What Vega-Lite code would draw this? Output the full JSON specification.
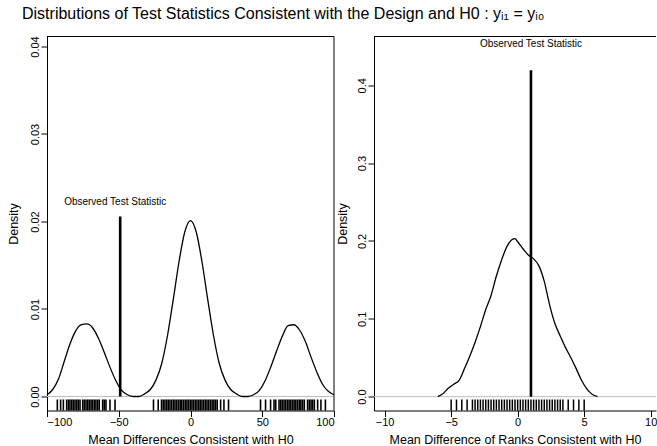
{
  "$schema": "https://vega.github.io/schema/vega-lite/v6.json",
  "autosize": {"type": "pad"},
  "padding": {"left": 7, "top": 5.5, "right": 0, "bottom": 0},
  "title": {
    "text": "Distributions of Test Statistics Consistent with the Design and H0 : yᵢ₁ = yᵢ₀",
    "anchor": "start",
    "frame": "group",
    "dx": -25,
    "offset": 0.5,
    "baseline": "alphabetic",
    "font": "Liberation Sans",
    "fontSize": 16,
    "fontWeight": "normal",
    "color": "black"
  },
  "datasets": {
    "leftDens": [
      {"x": -100, "d": 0.0002}, {"x": -96, "d": 0.0008}, {"x": -92, "d": 0.0020}, {"x": -88, "d": 0.0040},
      {"x": -84, "d": 0.0060}, {"x": -80, "d": 0.0075}, {"x": -76, "d": 0.0082}, {"x": -72, "d": 0.0083},
      {"x": -68, "d": 0.0078}, {"x": -64, "d": 0.0066}, {"x": -60, "d": 0.0050}, {"x": -56, "d": 0.0033},
      {"x": -52, "d": 0.0018}, {"x": -48, "d": 0.0007}, {"x": -44, "d": 0.0002}, {"x": -40, "d": 0.0000},
      {"x": -36, "d": 0.0000}, {"x": -32, "d": 0.0003}, {"x": -28, "d": 0.0008}, {"x": -24, "d": 0.0019},
      {"x": -20, "d": 0.0038}, {"x": -16, "d": 0.0070}, {"x": -12, "d": 0.0111}, {"x": -8, "d": 0.0154},
      {"x": -4, "d": 0.0188}, {"x": 0, "d": 0.0201}, {"x": 4, "d": 0.0188}, {"x": 8, "d": 0.0154},
      {"x": 12, "d": 0.0111}, {"x": 16, "d": 0.0070}, {"x": 20, "d": 0.0038}, {"x": 24, "d": 0.0019},
      {"x": 28, "d": 0.0008}, {"x": 32, "d": 0.0003}, {"x": 36, "d": 0.0000}, {"x": 40, "d": 0.0000},
      {"x": 44, "d": 0.0002}, {"x": 48, "d": 0.0007}, {"x": 52, "d": 0.0018}, {"x": 56, "d": 0.0034},
      {"x": 60, "d": 0.0052}, {"x": 64, "d": 0.0069}, {"x": 68, "d": 0.0081}, {"x": 72, "d": 0.0082},
      {"x": 76, "d": 0.0076}, {"x": 80, "d": 0.0063}, {"x": 84, "d": 0.0045}, {"x": 88, "d": 0.0028},
      {"x": 92, "d": 0.0014}, {"x": 96, "d": 0.0006}, {"x": 100, "d": 0.0002}
    ],
    "leftRug": [
      {"x": -92.8}, {"x": -90.5}, {"x": -88.6}, {"x": -86.3}, {"x": -85.1}, {"x": -84.0}, {"x": -82.8}, {"x": -81.7},
      {"x": -80.5}, {"x": -79.3}, {"x": -78.2}, {"x": -77.0}, {"x": -75.1}, {"x": -74.0}, {"x": -72.8}, {"x": -71.6},
      {"x": -70.5}, {"x": -69.3}, {"x": -68.2}, {"x": -67.0}, {"x": -65.9}, {"x": -64.7}, {"x": -63.6}, {"x": -61.2},
      {"x": -60.1}, {"x": -58.9}, {"x": -56.1}, {"x": -52.6},
      {"x": -25.8}, {"x": -22.5}, {"x": -20.2}, {"x": -19.0}, {"x": -17.8}, {"x": -16.6}, {"x": -15.5}, {"x": -14.3},
      {"x": -13.1}, {"x": -11.9}, {"x": -10.8}, {"x": -9.6}, {"x": -8.4}, {"x": -7.2}, {"x": -6.1}, {"x": -4.9},
      {"x": -3.7}, {"x": -2.5}, {"x": -1.4}, {"x": -0.2}, {"x": 1.0}, {"x": 2.1}, {"x": 3.3}, {"x": 4.5},
      {"x": 5.7}, {"x": 6.8}, {"x": 8.0}, {"x": 9.2}, {"x": 10.4}, {"x": 11.5}, {"x": 12.7}, {"x": 13.9},
      {"x": 15.1}, {"x": 16.3}, {"x": 17.4}, {"x": 18.6}, {"x": 21.0}, {"x": 23.3}, {"x": 26.5},
      {"x": 48.8}, {"x": 52.3}, {"x": 55.8}, {"x": 58.2}, {"x": 59.4}, {"x": 61.7}, {"x": 62.9}, {"x": 64.0},
      {"x": 65.2}, {"x": 66.4}, {"x": 67.6}, {"x": 68.7}, {"x": 69.9}, {"x": 71.1}, {"x": 72.2}, {"x": 73.4},
      {"x": 74.6}, {"x": 75.8}, {"x": 76.9}, {"x": 78.1}, {"x": 79.3}, {"x": 81.6}, {"x": 82.8}, {"x": 84.0},
      {"x": 85.1}, {"x": 86.3}, {"x": 88.6}, {"x": 90.9}, {"x": 94.0}
    ],
    "leftObs": [{"stat": -49, "base": 0, "d": 0.02057, "label": "Observed Test Statistic"}],
    "rightDens": [
      {"x": -6.0, "d": 0.000}, {"x": -5.6, "d": 0.004}, {"x": -5.2, "d": 0.011}, {"x": -4.8, "d": 0.016},
      {"x": -4.4, "d": 0.021}, {"x": -4.0, "d": 0.036}, {"x": -3.6, "d": 0.052}, {"x": -3.2, "d": 0.070},
      {"x": -2.8, "d": 0.090}, {"x": -2.4, "d": 0.112}, {"x": -2.0, "d": 0.130}, {"x": -1.6, "d": 0.155},
      {"x": -1.2, "d": 0.176}, {"x": -0.8, "d": 0.193}, {"x": -0.4, "d": 0.202}, {"x": -0.2, "d": 0.203},
      {"x": 0.0, "d": 0.199}, {"x": 0.4, "d": 0.190}, {"x": 0.8, "d": 0.182}, {"x": 1.2, "d": 0.177},
      {"x": 1.6, "d": 0.168}, {"x": 2.0, "d": 0.148}, {"x": 2.4, "d": 0.118}, {"x": 2.8, "d": 0.094},
      {"x": 3.2, "d": 0.078}, {"x": 3.6, "d": 0.063}, {"x": 4.0, "d": 0.050}, {"x": 4.4, "d": 0.036},
      {"x": 4.8, "d": 0.021}, {"x": 5.2, "d": 0.010}, {"x": 5.6, "d": 0.003}, {"x": 6.0, "d": 0.000}
    ],
    "rightRug": [
      {"x": -5.0}, {"x": -4.6}, {"x": -4.2}, {"x": -3.8}, {"x": -3.4}, {"x": -3.2}, {"x": -3.0}, {"x": -2.8},
      {"x": -2.6}, {"x": -2.4}, {"x": -2.2}, {"x": -2.0}, {"x": -1.8}, {"x": -1.6}, {"x": -1.4}, {"x": -1.2},
      {"x": -1.0}, {"x": -0.8}, {"x": -0.6}, {"x": -0.4}, {"x": -0.2}, {"x": 0.0}, {"x": 0.2}, {"x": 0.4},
      {"x": 0.6}, {"x": 0.8}, {"x": 1.0}, {"x": 1.2}, {"x": 1.4}, {"x": 1.6}, {"x": 1.8}, {"x": 2.0},
      {"x": 2.2}, {"x": 2.4}, {"x": 2.6}, {"x": 2.8}, {"x": 3.0}, {"x": 3.2}, {"x": 3.4}, {"x": 3.8},
      {"x": 4.2}, {"x": 4.6}, {"x": 5.0}
    ],
    "rightObs": [{"stat": 1.0, "base": 0, "d": 0.4192, "label": "Observed Test Statistic"}]
  },
  "hconcat": [
    {
      "width": 287,
      "height": 374,
      "layer": [
        {
          "data": {"values": [{}]},
          "mark": {"type": "rule", "color": "#bebebe", "strokeWidth": 1},
          "encoding": {"y": {"datum": 0, "type": "quantitative", "scale": {"domain": [-0.0016, 0.04114], "nice": false, "zero": false},
                  "axis": {"values": [0, 0.01, 0.02, 0.03, 0.04], "format": ".2f", "title": "Density", "domain": true, "labelAngle": -90, "labelAlign": "center", "labelBaseline": "alphabetic", "labelPadding": 3, "titlePadding": 9}}}
        },
        {
          "data": {"values": [{}]},
          "mark": {"type": "rule", "color": "black", "strokeWidth": 1},
          "encoding": {"y": {"datum": 0.04114, "type": "quantitative"}}
        },
        {
          "data": {"values": [{}]},
          "mark": {"type": "rule", "color": "black", "strokeWidth": 1},
          "encoding": {"x": {"datum": 100, "type": "quantitative", "scale": {"domain": [-100, 100], "nice": false, "zero": false},
                  "axis": {"values": [-100, -50, 0, 50, 100], "title": "Mean Differences Consistent with H0", "domain": true, "labelPadding": 0, "titlePadding": 6}}}
        },
        {
          "data": {"name": "leftDens"},
          "mark": {"type": "line", "color": "black", "strokeWidth": 1.3, "interpolate": "monotone"},
          "encoding": {
            "x": {"field": "x", "type": "quantitative"},
            "y": {"field": "d", "type": "quantitative"}
          }
        },
        {
          "data": {"name": "leftRug"},
          "mark": {"type": "rule", "color": "black", "strokeWidth": 1.6},
          "encoding": {
            "x": {"field": "x", "type": "quantitative"},
            "y": {"datum": -0.0016, "type": "quantitative"},
            "y2": {"datum": -0.00034}
          }
        },
        {
          "data": {"name": "leftObs"},
          "mark": {"type": "rule", "color": "black", "strokeWidth": 2.6},
          "encoding": {
            "x": {"field": "stat", "type": "quantitative"},
            "y": {"field": "base", "type": "quantitative"},
            "y2": {"field": "d"}
          }
        },
        {
          "data": {"name": "leftObs"},
          "mark": {"type": "text", "fontSize": 10, "dx": -5, "dy": -14, "baseline": "middle", "align": "center", "color": "black"},
          "encoding": {
            "x": {"field": "stat", "type": "quantitative"},
            "y": {"field": "d", "type": "quantitative"},
            "text": {"field": "label", "type": "nominal"}
          }
        }
      ]
    },
    {
      "width": 282,
      "height": 374,
      "layer": [
        {
          "data": {"values": [{}]},
          "mark": {"type": "rule", "color": "#bebebe", "strokeWidth": 1},
          "encoding": {"y": {"datum": 0, "type": "quantitative", "scale": {"domain": [-0.0178, 0.4627], "nice": false, "zero": false},
                  "axis": {"values": [0, 0.1, 0.2, 0.3, 0.4], "format": ".1f", "title": "Density", "domain": true, "labelAngle": -90, "labelAlign": "center", "labelBaseline": "alphabetic", "labelPadding": 3, "titlePadding": 7}}}
        },
        {
          "data": {"values": [{}]},
          "mark": {"type": "rule", "color": "black", "strokeWidth": 1},
          "encoding": {"y": {"datum": 0.4627, "type": "quantitative"}}
        },
        {
          "data": {"name": "rightDens"},
          "mark": {"type": "line", "color": "black", "strokeWidth": 1.3, "interpolate": "monotone"},
          "encoding": {
            "x": {"field": "x", "type": "quantitative", "scale": {"domain": [-10.8, 10.40], "nice": false, "zero": false},
                  "axis": {"values": [-10, -5, 0, 5, 10], "title": "Mean Difference of Ranks Consistent with H0", "domain": true, "labelPadding": 0, "titlePadding": 6}},
            "y": {"field": "d", "type": "quantitative"}
          }
        },
        {
          "data": {"name": "rightRug"},
          "mark": {"type": "rule", "color": "black", "strokeWidth": 1.5},
          "encoding": {
            "x": {"field": "x", "type": "quantitative"},
            "y": {"datum": -0.0178, "type": "quantitative"},
            "y2": {"datum": -0.0037}
          }
        },
        {
          "data": {"name": "rightObs"},
          "mark": {"type": "rule", "color": "black", "strokeWidth": 2.6},
          "encoding": {
            "x": {"field": "stat", "type": "quantitative"},
            "y": {"field": "base", "type": "quantitative"},
            "y2": {"field": "d"}
          }
        },
        {
          "data": {"name": "rightObs"},
          "mark": {"type": "text", "fontSize": 10, "dy": -26, "baseline": "middle", "align": "center", "color": "black"},
          "encoding": {
            "x": {"field": "stat", "type": "quantitative"},
            "y": {"field": "d", "type": "quantitative"},
            "text": {"field": "label", "type": "nominal"}
          }
        }
      ]
    }
  ],
  "spacing": 40,
  "bounds": "flush",
  "config": {
    "font": "Liberation Sans",
    "view": {"stroke": null},
    "axis": {
      "grid": false,
      "domain": false,
      "domainColor": "black",
      "domainWidth": 1,
      "tickColor": "black",
      "tickSize": 6,
      "labelColor": "black",
      "labelFontSize": 11,
      "labelFont": "Liberation Sans",
      "titleFont": "Liberation Sans",
      "titleFontSize": 12.5,
      "titleFontWeight": "normal",
      "titleColor": "black"
    }
  }
}
